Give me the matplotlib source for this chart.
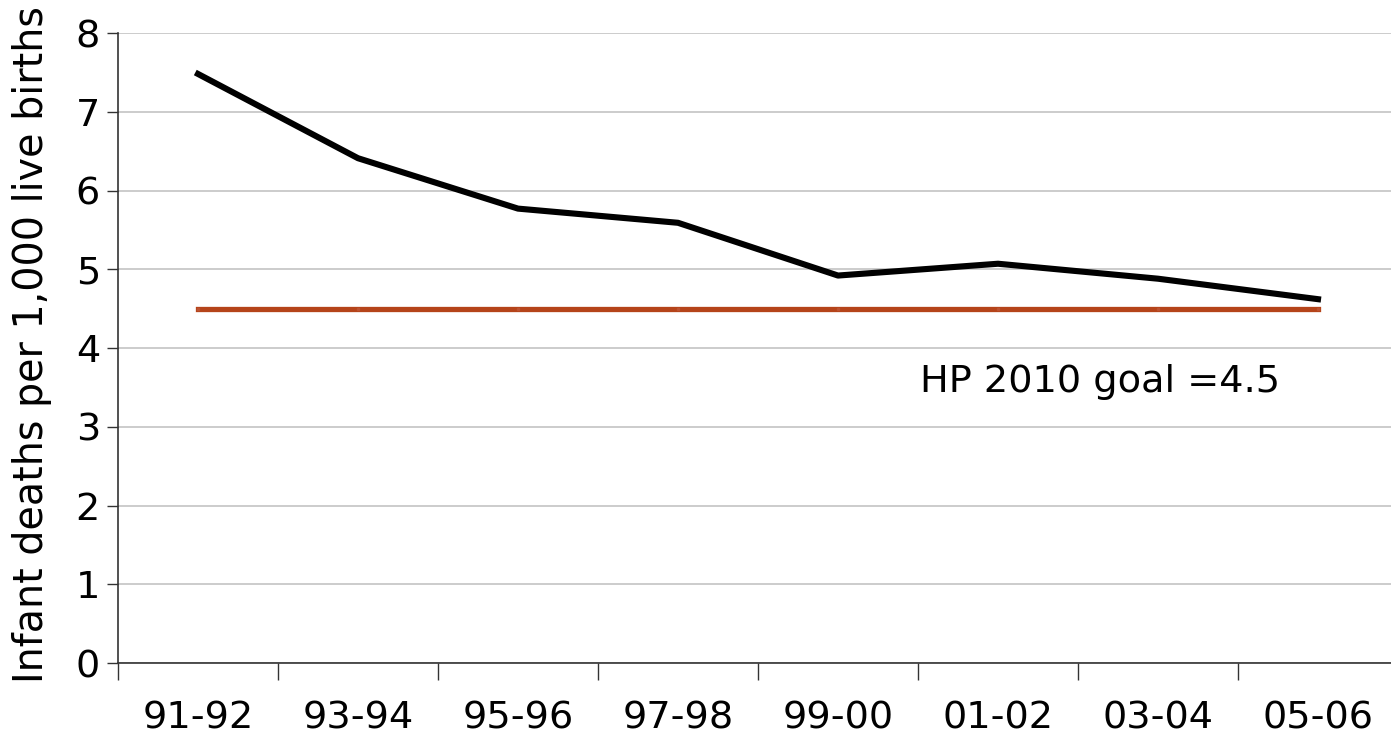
import matplotlib
matplotlib.use('Agg')
import matplotlib.pyplot as plt
import numpy as np

periods = ['91-92', '93-94', '95-96', '97-98', '99-00', '01-02', '03-04', '05-06']
infant_rate = [7.48, 6.41, 5.77, 5.59, 4.92, 5.07, 4.88, 4.62]
goal = [4.5] * len(periods)

plt.rcParams['font.family'] = ['DejaVu Sans']
fs = 27.5

fig = plt.figure(figsize=(13.91, 7.38), dpi=100)
ax = fig.add_axes([118 / 1391, 75 / 738, 1280 / 1391, 630 / 738])

x = np.arange(len(periods))
ax.plot(x, goal, color='#B5441A', linewidth=3.8, marker='s', markersize=2,
        markerfacecolor='#BC5230', markeredgecolor='#BC5230', zorder=3)
ax.plot(x, infant_rate, color='black', linewidth=4.4, zorder=4)

ax.set_xlim(-0.5, len(periods) - 0.5)
ax.set_ylim(0, 8)
ax.set_yticks(range(0, 9))
ax.grid(axis='y', color='#c4c4c4', linewidth=1.2)
ax.set_axisbelow(True)

# boundaries as major ticks, labels on minor ticks at the centers
ax.set_xticks(np.arange(-0.5, len(periods), 1.0))
ax.set_xticklabels([])
ax.set_xticks(x, minor=True)
ax.set_xticklabels(periods, minor=True, fontsize=fs)
ax.tick_params(axis='x', which='major', length=12, width=1, color='#333333')
ax.tick_params(axis='x', which='minor', length=0, pad=27)
ax.tick_params(axis='y', length=8, width=1, color='#333333', labelsize=fs, pad=5)

for s in ['top', 'right']:
    ax.spines[s].set_visible(False)
for s in ['left', 'bottom']:
    ax.spines[s].set_color('#333333')
    ax.spines[s].set_linewidth(1.2)

ax.text(4.51, 3.57, 'HP 2010 goal =4.5', fontsize=fs, va='center', ha='left')
fig.text(32 / 1391, 0.533, 'Infant deaths per 1,000 live births', fontsize=28.5,
         rotation=90, ha='center', va='center')

fig.savefig('out.png', dpi=100)
